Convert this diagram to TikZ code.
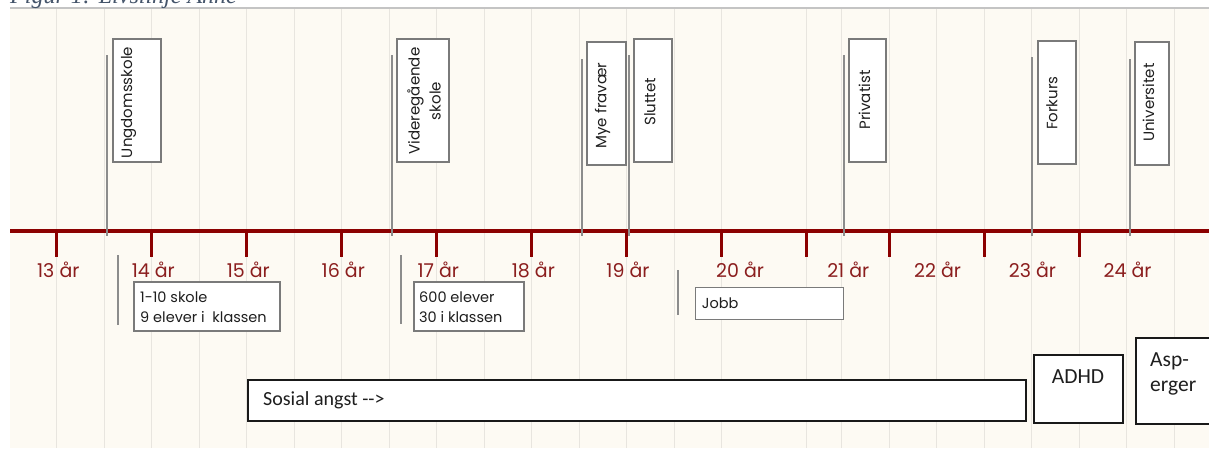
\documentclass[tikz,border=0pt]{standalone}
\usepackage{fontspec}
\setmainfont{Liberation Serif}
\newfontfamily\goth{Poppins}
\newfontfamily\calib{Carlito}
\definecolor{bgc}{HTML}{FDFAF3}
\definecolor{gridc}{HTML}{E8E5DF}
\definecolor{topc}{HTML}{C4C4C4}
\definecolor{axisc}{HTML}{8B0000}
\definecolor{labc}{HTML}{8B1E1E}
\definecolor{evc}{HTML}{8C8C8C}
\definecolor{boxc}{HTML}{7A7A7A}
\definecolor{titlec}{HTML}{44546A}
\definecolor{txtc}{HTML}{1E1E1E}
\tikzset{
  gridline/.style={draw=gridc, line width=1.3pt},
  axisline/.style={draw=axisc, line width=4.3pt},
  tickline/.style={draw=axisc, line width=3.2pt},
  agelabel/.style={text=labc, font=\goth\fontsize{19}{22}\selectfont, inner sep=0pt, anchor=base},
  evline/.style={draw=evc, line width=2pt},
  vbox/.style={draw=boxc, fill=white, line width=1.3pt, inner sep=0pt},
  bbox/.style={draw=black!90, fill=white, line width=1.3pt, inner sep=0pt},
  vtext/.style={text=txtc, font=\goth\fontsize{15}{21}\selectfont, inner sep=0pt, rotate=90, align=center},
  ltext/.style={text=txtc, font=\goth\fontsize{14.5}{20}\selectfont, inner sep=0pt, align=left},
  ctext/.style={text=txtc, font=\calib\fontsize{20}{25}\selectfont, inner sep=0pt, align=left},
}
\begin{document}
\begin{tikzpicture}[x=1pt,y=-1pt]
\useasboundingbox (0,0) rectangle (1209,448);
\fill[white] (0,0) rectangle (1209,448);
\fill[bgc] (10,8) rectangle (1209,448);
% grid
\foreach \k in {0,...,14} {\draw[gridline] ({56.7+47.5*\k},8) -- ({56.7+47.5*\k},448);}
\draw[gridline] (806.7,8) -- (806.7,448);
\foreach \k in {0,...,7} {\draw[gridline] ({841.7+47.5*\k},8) -- ({841.7+47.5*\k},448);}
\draw[draw=topc, line width=1.2pt] (10,8) -- (1209,8);
% title
\node[font=\itshape\fontsize{24}{28}\selectfont, text=titlec, anchor=base west, inner sep=0pt] (title) at (10,3.5) {Figur 1: Livslinje Anne};
% axis
\coordinate (axL) at (10,230.7);
\coordinate (axR) at (1209,230.7);
\draw[axisline] (axL) -- (axR);
\foreach \x in {56.7,151.7,246.7,341.7,436.7,531.7,626.7,721.7,806.7,889.2,984.2,1079.2} {\draw[tickline] (\x,230.7) -- (\x,257);}
% age labels
\foreach \x/\t [count=\i] in {58.3/13,153.3/14,248.3/15,343.3/16,438.3/17,533.3/18,628/19,740/20,848.3/21,937.5/22,1032.5/23,1127.5/24} {\node[agelabel] (age\i) at (\x,277) {\t\ år};}
% event lines (upper)
\foreach \x/\a [count=\i] in {107/55,391.5/55,581.7/59,629.3/55,844.3/55,1032.3/57,1130/59} {\draw[evline] (\x,\a) coordinate (evtop\i) -- (\x,236) coordinate (evbot\i);}
% upper boxes
\node[vbox, minimum width=48, minimum height=123] (ungbox) at (137,100.5) {};
\node[vtext] (ungtxt) at (128.5,102.5) {Ungdomsskole};
\node[vbox, minimum width=52, minimum height=123] (vgsbox) at (423,100.5) {};
\node[vtext] (vgstxt) at (424,101) {Videregående\\skole};
\node[vbox, minimum width=39, minimum height=123] (myebox) at (606.5,103.5) {};
\node[vtext] (myetxt) at (602.5,105.5) {Mye fravær};
\node[vbox, minimum width=38, minimum height=123] (slubox) at (653,100.5) {};
\node[vtext] (slutxt) at (650,101.7) {Sluttet};
\node[vbox, minimum width=37, minimum height=123] (pribox) at (867.5,100.5) {};
\node[vtext] (pritxt) at (864.5,100) {Privatist};
\node[vbox, minimum width=38, minimum height=123] (forbox) at (1057,102.5) {};
\node[vtext] (fortxt) at (1052,103) {Forkurs};
\node[vbox, minimum width=34, minimum height=123] (unibox) at (1152,103.5) {};
\node[vtext] (unitxt) at (1148.5,102.5) {Universitet};
% lower lines
\draw[evline] (118,255) coordinate (l1a) -- (118,325) coordinate (l1b);
\draw[evline] (401,255) coordinate (l2a) -- (401,324) coordinate (l2b);
\draw[evline] (678,270) coordinate (l3a) -- (678,315) coordinate (l3b);
% lower small boxes
\node[vbox, minimum width=146, minimum height=49] (skbox) at (207,306.5) {};
\node[ltext, anchor=west] (sktxt) at (140,306.7) {1-10 skole\\9 elever i\ \ klassen};
\node[vbox, minimum width=110, minimum height=49] (vgbox) at (469,306.5) {};
\node[ltext, anchor=west] (vgtxt) at (419,307.3) {600 elever\\30 i klassen};
\node[vbox, minimum width=147.6, minimum height=31.6] (jobox) at (769.5,303.5) {};
\node[ltext, anchor=west] (jotxt) at (701.7,303.3) {Jobb};
% bottom boxes
\node[bbox, minimum width=778, minimum height=41] (sabox) at (637,400.5) {};
\node[ctext, anchor=west] (satxt) at (263,400) {Sosial angst -->};
\node[bbox, minimum width=89, minimum height=68] (adbox) at (1078.5,389) {};
\node[ctext, font=\calib\fontsize{21.5}{25}\selectfont] (adtxt) at (1078,376.7) {ADHD};
\node[bbox, minimum width=79, minimum height=86] (asbox) at (1175.5,381) {};
\node[ctext, font=\calib\fontsize{21.5}{25}\selectfont, anchor=west] (astxt) at (1150,374) {Asp-\\erger};
\end{tikzpicture}
\end{document}
